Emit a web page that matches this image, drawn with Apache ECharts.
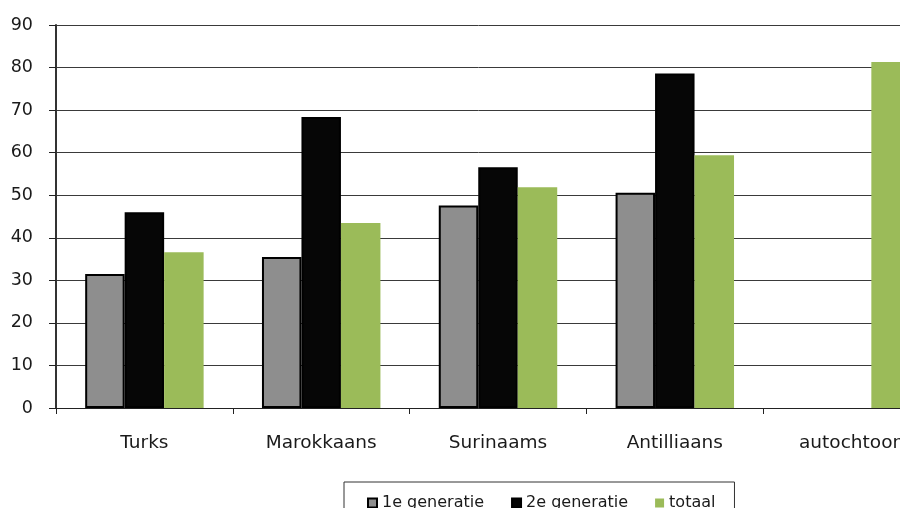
<!DOCTYPE html>
<html>
<head>
<meta charset="utf-8">
<script src="https://cdn.jsdelivr.net/npm/echarts@6/dist/echarts.min.js"></script>
<style>
html,body{margin:0;padding:0;background:#fff;overflow:hidden;}
#c{width:900px;height:508px;}
</style>
</head>
<body>
<div id="c"></div>
<script>
const categories = ['Turks', 'Marokkaans', 'Surinaams', 'Antilliaans', 'autochtoon'];
const seriesNames = ['1e generatie', '2e generatie', 'totaal'];
const gen1 = [31.5, 35.5, 47.6, 50.6, null];
const gen2 = [46.0, 68.4, 56.6, 78.6, null];
const totaal = [36.6, 43.5, 51.9, 59.4, 81.3];
const yTicks = [0, 10, 20, 30, 40, 50, 60, 70, 80, 90];

const font = '"DejaVu Sans", Verdana, sans-serif';
const chart = echarts.init(document.getElementById('c'), null, {renderer: 'canvas'});
chart.setOption({
  animation: false,
  backgroundColor: '#ffffff',
  textStyle: {fontFamily: font},
  grid: {left: 56, top: 25, width: 884, height: 383, containLabel: false, outerBoundsMode: 'none'},
  legend: {
    left: 344, top: 482,
    padding: [13, 19, 12, 23],
    borderColor: '#333',
    borderWidth: 1,
    icon: 'rect',
    itemWidth: 9, itemHeight: 9, itemGap: 27,
    textStyle: {fontSize: 16, color: '#1a1a1a', fontFamily: font},
    data: seriesNames
  },
  xAxis: {
    type: 'category',
    data: categories,
    axisLine: {lineStyle: {color: '#222', width: 1}},
    axisTick: {show: true, length: 6, inside: false, lineStyle: {color: '#222'}},
    axisLabel: {fontSize: 18.5, color: '#1a1a1a', margin: 26, fontFamily: font}
  },
  yAxis: {
    type: 'value',
    min: yTicks[0], max: yTicks[yTicks.length - 1], interval: 10,
    axisLine: {show: true, lineStyle: {color: '#333', width: 2}},
    axisTick: {show: true, length: 7, lineStyle: {color: '#222'}},
    axisLabel: {fontSize: 17.5, color: '#1a1a1a', margin: 23, fontFamily: font},
    splitLine: {show: true, lineStyle: {color: '#3a3a3a', width: 1}}
  },
  series: [
    {name: seriesNames[0], type: 'bar', data: gen1, barGap: '0%', barCategoryGap: '33%',
     itemStyle: {color: '#8e8e8e', borderColor: '#000', borderWidth: 2}},
    {name: seriesNames[1], type: 'bar', data: gen2, barGap: '0%', barCategoryGap: '33%',
     itemStyle: {color: '#060606', borderColor: '#000', borderWidth: 2}},
    {name: seriesNames[2], type: 'bar', data: totaal, barGap: '0%', barCategoryGap: '33%',
     itemStyle: {color: '#9bbb59', borderWidth: 0}}
  ]
});
</script>
</body>
</html>
